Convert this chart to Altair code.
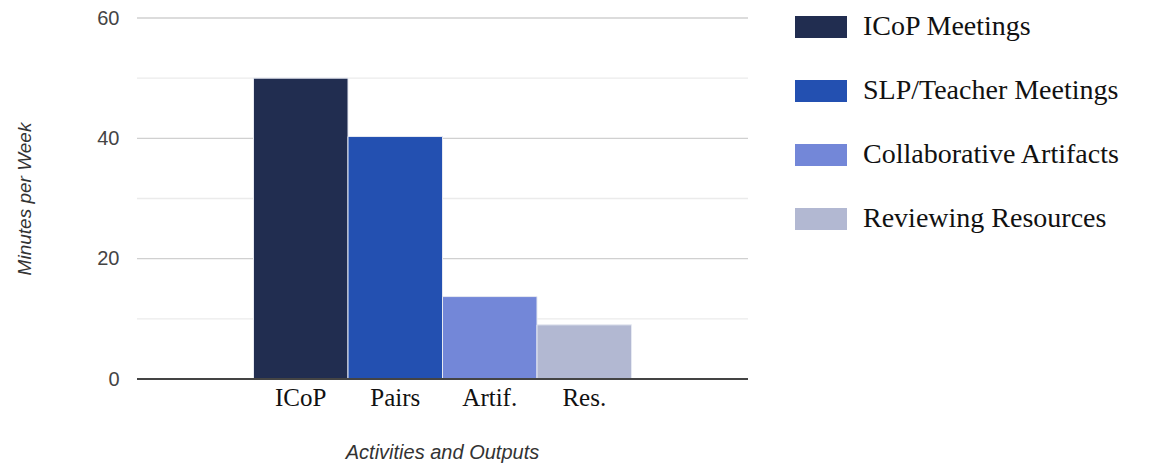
import altair as alt
import pandas as pd

# Weekly minutes spent on each collaboration activity
categories = ["ICoP", "Pairs", "Artif.", "Res."]
series = ["ICoP Meetings", "SLP/Teacher Meetings", "Collaborative Artifacts", "Reviewing Resources"]
minutes = [50, 40.3, 13.7, 9]
colors = ["#212d50", "#2350b1", "#7387d8", "#b2b8d2"]

# Horizontal gridlines (major every 20, minor in between)
grid_values = [10, 20, 30, 40, 50, 60]

df = pd.DataFrame({"category": categories, "series": series, "minutes": minutes})
grid_df = pd.DataFrame({"v": grid_values})

W, H = 611, 361

y_scale = alt.Scale(domain=[0, 60], nice=False)

grid = alt.Chart(grid_df).mark_rule(strokeWidth=1.3).encode(
    x=alt.value(0),
    x2=alt.value(W),
    y=alt.Y("v:Q", scale=y_scale),
    color=alt.condition("datum.v % 20 === 0", alt.value("#d0d0d0"), alt.value("#ebebeb")),
)

bars = alt.Chart(df).mark_bar(stroke="#e6e9f2", strokeWidth=1).encode(
    x=alt.X(
        "category:N",
        sort=categories,
        scale=alt.Scale(range=[116.5, 494.5], paddingInner=0, paddingOuter=0),
        axis=alt.Axis(
            title="Activities and Outputs",
            titleFont="Liberation Sans",
            titleFontStyle="italic",
            titleFontWeight="normal",
            titleFontSize=20,
            titleColor="#333333",
            titlePadding=32,
            titleX=305,
            labelFont="Liberation Serif",
            labelFontSize=25,
            labelColor="#111111",
            labelPadding=6,
            labelAngle=0,
            ticks=False,
            domain=False,
            grid=False,
        ),
    ),
    y=alt.Y(
        "minutes:Q",
        scale=y_scale,
        axis=alt.Axis(
            title="Minutes per Week",
            titleFont="Liberation Sans",
            titleFontStyle="italic",
            titleFontWeight="normal",
            titleFontSize=19,
            titleColor="#333333",
            titlePadding=62,
            values=[0, 20, 40, 60],
            labelFont="Liberation Sans",
            labelFontSize=20,
            labelColor="#444444",
            labelPadding=18,
            ticks=False,
            domain=False,
            grid=False,
        ),
    ),
    color=alt.Color(
        "series:N",
        sort=series,
        scale=alt.Scale(domain=series, range=colors),
        legend=alt.Legend(
            title=None,
            orient="none",
            legendX=658,
            legendY=-17,
            symbolType="M-1,-0.42H1V0.42H-1Z",
            symbolSize=2704,
            symbolStrokeWidth=0,
            symbolOpacity=1,
            labelFont="Liberation Serif",
            labelFontSize=28,
            labelColor="#111111",
            labelOffset=16,
            labelLimit=400,
            rowPadding=24,
        ),
    ),
)

# Baseline along the full width of the plot
baseline = alt.Chart(df).mark_rule(color="#444444", strokeWidth=2).encode(
    x=alt.value(0),
    x2=alt.value(W),
    y=alt.datum(0),
)

chart = alt.layer(grid, bars, baseline).resolve_scale(color="independent").properties(
    width=W,
    height=H,
    padding={"left": 137, "top": 18, "right": 1154 - 137 - W, "bottom": 464 - 18 - H},
    autosize=alt.AutoSizeParams(type="none"),
).configure_view(stroke=None)

chart.save("out.html", embed_options={"renderer": "svg", "actions": False})
